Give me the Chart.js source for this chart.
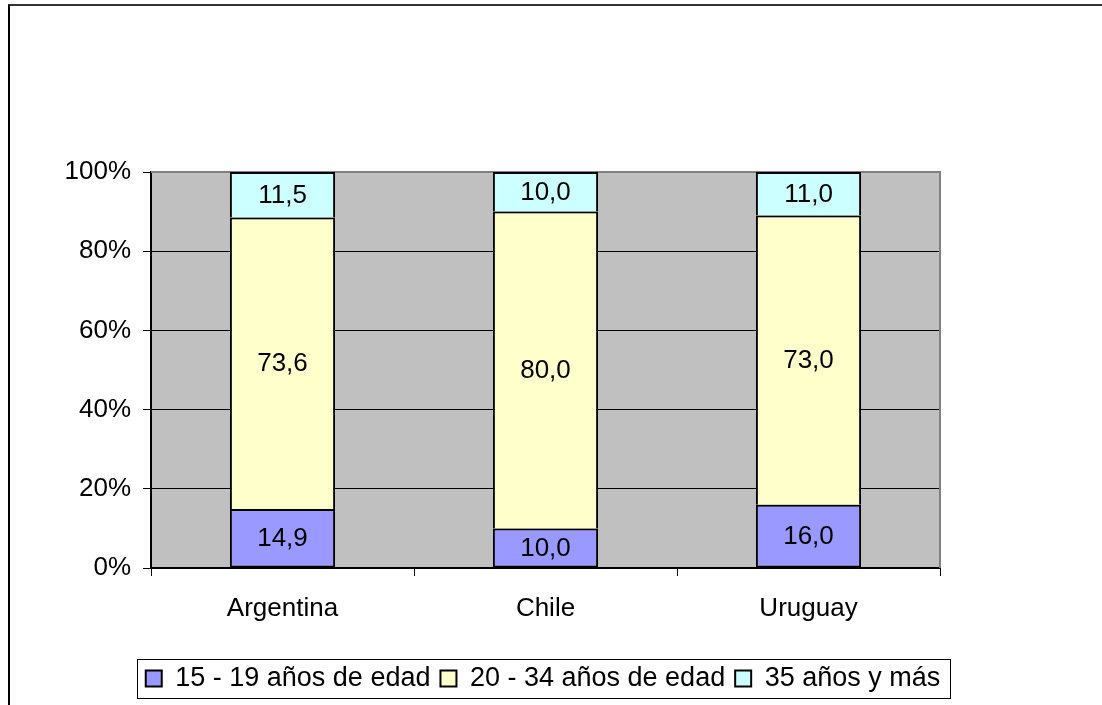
<!DOCTYPE html>
<html>
<head>
<meta charset="utf-8">
<title>Distribución por edad</title>
<script src="https://cdn.jsdelivr.net/npm/chart.js@4.4.1/dist/chart.umd.min.js"></script>
<style>
    html, body { margin: 0; padding: 0; background: #fff; }
    #wrap { position: relative; width: 1102px; height: 705px; overflow: hidden; }
    #frame { position: absolute; left: 8px; top: 4px; width: 1200px; height: 800px;
             border-top: 2px solid #333; border-left: 2px solid #000; }
    #chart { position: absolute; left: 0; top: 0; }
</style>
</head>
<body>
<div id="wrap">
    <div id="frame"></div>
    <canvas id="chart" width="1102" height="705"></canvas>
</div>
<script>
var countries = ["Argentina", "Chile", "Uruguay"];
var age15to19 = [14.9, 10.0, 16.0];
var age20to34 = [73.6, 80.0, 73.0];
var age35plus = [11.5, 10.0, 11.0];
var seriesNames = ["15 - 19 años de edad", "20 - 34 años de edad", "35 años y más"];
var seriesColors = ["#9999FF", "#FFFFCC", "#CCFFFF"];
var yTicks = [0, 20, 40, 60, 80, 100];

Chart.defaults.font.family = '"Liberation Sans", Arial, sans-serif';
Chart.defaults.font.size = 26;
Chart.defaults.color = "#000";

function fmt(v) {
    return v.toFixed(1).replace(".", ",");
}

// gray plot background
var plotBackground = {
    id: "plotBackground",
    beforeDraw: function (chart) {
        var a = chart.chartArea, ctx = chart.ctx;
        ctx.save();
        ctx.fillStyle = "#C0C0C0";
        ctx.fillRect(a.left, a.top, a.right - a.left, a.bottom - a.top);
        ctx.restore();
    }
};

// gray border on top and right of the plot
var plotFrame = {
    id: "plotFrame",
    beforeDatasetsDraw: function (chart) {
        var a = chart.chartArea, ctx = chart.ctx;
        ctx.save();
        ctx.strokeStyle = "#808080";
        ctx.lineWidth = 2;
        ctx.beginPath();
        ctx.moveTo(a.left, a.top);
        ctx.lineTo(a.right, a.top);
        ctx.lineTo(a.right, a.bottom);
        ctx.stroke();
        ctx.restore();
    }
};

// value text in the middle of each stacked segment
var segmentLabels = {
    id: "segmentLabels",
    afterDatasetsDraw: function (chart) {
        var ctx = chart.ctx;
        ctx.save();
        ctx.font = '26px "Liberation Sans", Arial, sans-serif';
        ctx.fillStyle = "#000";
        ctx.textAlign = "center";
        ctx.textBaseline = "middle";
        chart.data.datasets.forEach(function (ds, i) {
            chart.getDatasetMeta(i).data.forEach(function (bar, j) {
                var p = bar.getProps(["x", "y", "base"], true);
                ctx.fillText(fmt(ds.data[j]), p.x, (p.y + p.base) / 2 + 1);
            });
        });
        ctx.restore();
    }
};

// legend row centred under the plot (x = 543), wide enough for one line
var legendShift = {
    id: "legendShift",
    afterLayout: function (chart) {
        var lg = chart.legend;
        if (!lg) return;
        lg.left = 100;
        lg.right = 986;
        lg.width = lg.right - lg.left;
    }
};

// box around the legend items
var legendFrame = {
    id: "legendFrame",
    afterDraw: function (chart) {
        var boxes = chart.legend && chart.legend.legendHitBoxes;
        if (!boxes || !boxes.length) return;
        var l = Infinity, t = Infinity, r = -Infinity, b = -Infinity;
        boxes.forEach(function (h) {
            l = Math.min(l, h.left);
            t = Math.min(t, h.top);
            r = Math.max(r, h.left + h.width);
            b = Math.max(b, h.top + h.height);
        });
        var ctx = chart.ctx;
        ctx.save();
        ctx.strokeStyle = "#000";
        ctx.lineWidth = 1;
        ctx.strokeRect(Math.round(l - 9) + 0.5, Math.round(t - 6) + 0.5,
            Math.round(r - l + 18), Math.round(b - t + 12));
        ctx.restore();
    }
};

var datasets = [age15to19, age20to34, age35plus].map(function (values, i) {
    return {
        label: seriesNames[i],
        data: values,
        backgroundColor: seriesColors[i],
        borderColor: "#000",
        borderWidth: 2,
        borderSkipped: i === 0 ? false : "start",
        barPercentage: 0.4,
        categoryPercentage: 1.0
    };
});

new Chart(document.getElementById("chart"), {
    type: "bar",
    data: { labels: countries, datasets: datasets },
    options: {
        responsive: false,
        animation: false,
        layout: { padding: { left: 0, right: 162, top: 172, bottom: 3 } },
        scales: {
            x: {
                stacked: true,
                afterFit: function (scale) { scale.height = 87; },
                grid: { display: true, drawOnChartArea: false, offset: true,
                        tickLength: 8, tickColor: "#000", tickWidth: 1 },
                border: { color: "#000", width: 2 },
                ticks: { padding: 17, font: { size: 26 } }
            },
            y: {
                stacked: true,
                min: 0,
                max: 100,
                afterFit: function (scale) { scale.width = 151; },
                afterBuildTicks: function (scale) {
                    scale.ticks = yTicks.map(function (v) { return { value: v }; });
                },
                grid: { color: "#000", lineWidth: 1, tickLength: 8, tickColor: "#000" },
                border: { color: "#000", width: 2 },
                ticks: {
                    padding: 12,
                    font: { size: 26 },
                    callback: function (v) { return v + "%"; }
                }
            }
        },
        plugins: {
            legend: {
                position: "bottom",
                labels: { boxWidth: 16, boxHeight: 16, padding: 10, font: { size: 27 } }
            },
            tooltip: { enabled: false }
        }
    },
    plugins: [plotBackground, plotFrame, segmentLabels, legendShift, legendFrame]
});
</script>
</body>
</html>
